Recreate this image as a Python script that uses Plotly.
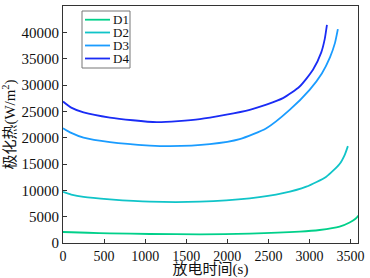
import plotly.graph_objects as go

# Data
d1_t = [0, 300, 571, 1057, 1665, 2272, 2880, 3123, 3366, 3488, 3560, 3600]
d1_q = [2090, 1950, 1840, 1710, 1650, 1770, 2150, 2470, 3100, 3900, 4600, 5300]

d2_t = [0, 100, 250, 571, 1057, 1665, 2272, 2677, 2961, 3204, 3366, 3430, 3467]
d2_q = [9700, 9200, 8750, 8300, 7850, 7850, 8490, 9450, 10700, 12600, 15000, 16800, 18400]

d3_t = [0, 100, 250, 571, 1057, 1300, 1786, 2150, 2475, 2758, 3001, 3150, 3250, 3310, 3345]
d3_q = [21800, 20900, 20000, 19140, 18500, 18380, 18760, 19710, 21800, 25280, 29090, 32200, 35300, 38000, 40600]

d4_t = [0, 100, 250, 571, 1139, 1665, 2272, 2677, 2880, 3042, 3143, 3185, 3212]
d4_q = [26860, 25700, 24800, 23820, 22940, 23510, 25280, 27500, 29710, 32890, 36200, 38700, 41400]

series_names = ["D1", "D2", "D3", "D4"]
series_colors = ["#00d08a", "#10c4c8", "#1a9cff", "#1a2cf5"]
x_ticks = [0, 500, 1000, 1500, 2000, 2500, 3000, 3500]
y_ticks = [0, 5000, 10000, 15000, 20000, 25000, 30000, 35000, 40000, 45000]

FONT = "Liberation Serif, Noto Sans CJK SC, serif"

W, H = 370, 278
L, R, T, B = 63, 12, 6, 35
PW, PH = W - L - R, H - T - B


def px_x(px):
    return (px - L) / PW


def px_y(py):
    return (H - B - py) / PH


fig = go.Figure()
for name, t, q, c in zip(series_names, [d1_t, d2_t, d3_t, d4_t],
                         [d1_q, d2_q, d3_q, d4_q], series_colors):
    fig.add_trace(go.Scatter(x=t, y=q, mode="lines", name=name, showlegend=False,
                             line=dict(color=c, width=1.8, shape="spline", smoothing=0.6)))

axis_common = dict(showline=True, linecolor="#333", linewidth=1.2, mirror=True,
                   ticks="inside", ticklen=4, tickcolor="#333", showgrid=False,
                   zeroline=False, automargin=False)

fig.update_xaxes(range=[0, 3590], tickvals=x_ticks, tickformat="d",
                 tickfont=dict(family=FONT, size=14, color="#111"),
                 title=dict(text="放电时间(s)", font=dict(family=FONT, size=15, color="#111"), standoff=5),
                 **axis_common)
fig.update_yaxes(range=[0, 45000], tickvals=y_ticks, tickformat="d",
                 tickfont=dict(family=FONT, size=15, color="#111"),
                 title=dict(text="极化热(W/m<sup>2</sup>)", font=dict(family=FONT, size=15, color="#111"), standoff=3),
                 **axis_common)

# Custom compact legend (box, line samples, labels)
shapes = [dict(type="rect", xref="paper", yref="paper",
               x0=px_x(82), x1=px_x(130), y0=px_y(68), y1=px_y(11),
               line=dict(color="#777", width=1), fillcolor="white", layer="above")]
annotations = []
legend_rows = [19.7, 32.5, 45.5, 58.5]
for name, c, py in zip(series_names, series_colors, legend_rows):
    shapes.append(dict(type="line", xref="paper", yref="paper",
                       x0=px_x(85), x1=px_x(110), y0=px_y(py), y1=px_y(py),
                       line=dict(color=c, width=1.8), layer="above"))
    annotations.append(dict(text=name, xref="paper", yref="paper",
                            x=px_x(111), y=px_y(py), xanchor="left", yanchor="middle",
                            showarrow=False, font=dict(family=FONT, size=13, color="#111")))

fig.update_layout(
    width=W, height=H,
    margin=dict(l=L, r=R, t=T, b=B),
    paper_bgcolor="white", plot_bgcolor="white",
    showlegend=False,
    shapes=shapes, annotations=annotations,
)

fig.write_html("out.html", config={"displayModeBar": False},
               post_script="document.body.style.margin='0';")
